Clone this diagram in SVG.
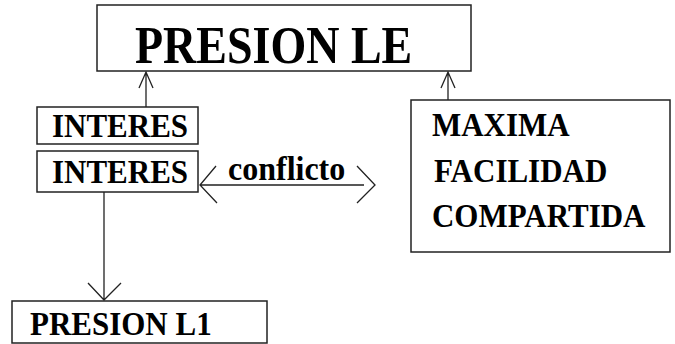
<svg xmlns="http://www.w3.org/2000/svg" width="675" height="344" viewBox="0 0 675 344">
<style>
.box{fill:#fff;stroke:#222;stroke-width:1.5}
.t{font-family:"Liberation Serif","Times New Roman",serif;font-weight:bold;fill:#000}
.c{stroke:#222;stroke-width:1.3;fill:none}
</style>
<rect width="675" height="344" fill="#fff"/>
<g id="connectors">
<path class="c" d="M146,107 V72 M139,88 L146,72 L153,88"/>
<path class="c" d="M448,100 V72 M441,88 L448,72 L455,88"/>
<path class="c" d="M104,192 V300 M88,283 L104,300 L121,283"/>
<path class="c" d="M200,185 H364 M216,166 L200,185 L217,203 M357,166 L375,185 L357,203"/>
<text class="t" x="228" y="180" font-size="32" transform="translate(0,180) scale(1,1.08) translate(0,-180)">conflicto</text>
</g>
<g id="presion-le">
<rect class="box" x="97" y="5" width="374" height="66"/>
<text class="t" x="135" y="63" font-size="46" transform="translate(0,63) scale(1,1.15) translate(0,-63)">PRESION LE</text>
</g>
<g id="interes1">
<rect class="box" x="37" y="107" width="161" height="37"/>
<text class="t" x="52" y="137" font-size="31" transform="translate(0,137) scale(1,1.08) translate(0,-137)">INTERES</text>
</g>
<g id="interes2">
<rect class="box" x="37" y="151" width="161" height="41"/>
<text class="t" x="52" y="183" font-size="31" transform="translate(0,183) scale(1,1.08) translate(0,-183)">INTERES</text>
</g>
<g id="maxima">
<rect class="box" x="411" y="100" width="259" height="152"/>
<text class="t" x="432" y="136" font-size="31" transform="translate(0,136) scale(1,1.08) translate(0,-136)">MAXIMA</text>
<text class="t" x="434" y="182" font-size="31" transform="translate(0,182) scale(1,1.08) translate(0,-182)">FACILIDAD</text>
<text class="t" x="432" y="227" font-size="31" transform="translate(0,227) scale(1,1.08) translate(0,-227)">COMPARTIDA</text>
</g>
<g id="presion-l1">
<rect class="box" x="12" y="301" width="255" height="42"/>
<text class="t" x="30" y="335" font-size="31" transform="translate(0,335) scale(1,1.08) translate(0,-335)">PRESION L1</text>
</g>
</svg>
